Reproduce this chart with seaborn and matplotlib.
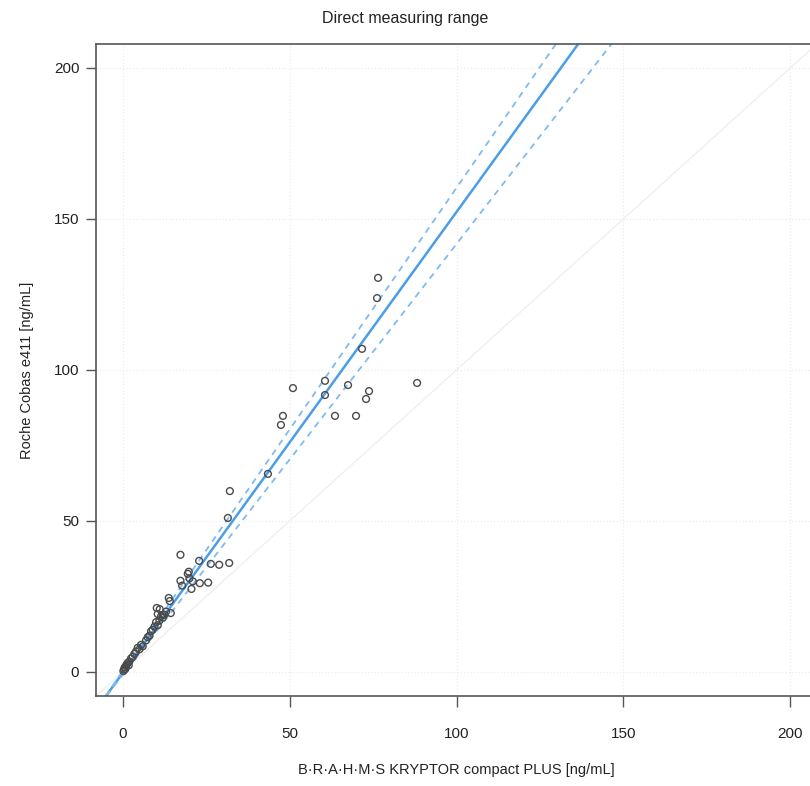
import numpy as np
import pandas as pd
import matplotlib
matplotlib.use('Agg')
import matplotlib.pyplot as plt
import seaborn as sns

# measured values (x: KRYPTOR, y: Cobas)
kryptor = [0.2, 0.4, 0.6, 0.8, 1.0, 1.2, 1.5, 1.8, 2.0, 2.5, 3.0, 3.5, 4.0, 4.5,
           5.0, 5.5, 6.0, 7.0, 7.5, 8.0, 8.5, 9.0, 9.5, 10.0, 10.5, 11.0, 11.5,
           12.0, 12.5, 13.0, 13.8, 14.1, 14.4, 10.2, 10.5, 12.0, 11.1,
           17.3, 22.9, 26.4, 28.9, 31.9, 19.8, 17.3, 23.1, 25.6, 20.6, 17.8,
           20.0, 21.0, 19.5,
           76.5, 76.2, 71.7, 60.6, 51.0, 67.5, 73.8, 88.2, 60.6, 72.9, 48.0,
           47.4, 63.6, 69.9, 43.5, 32.1, 31.5]
cobas = [0.3, 0.8, 1.5, 1.0, 2.0, 2.5, 3.0, 2.2, 3.5, 4.5, 5.0, 6.0, 6.8, 8.0,
         7.5, 9.0, 8.5, 10.5, 11.5, 12.0, 13.5, 14.0, 15.0, 16.5, 15.5, 17.0, 18.5,
         18.0, 19.0, 20.0, 24.5, 23.5, 19.5, 21.2, 19.2, 18.9, 20.8,
         38.8, 36.8, 35.8, 35.5, 36.1, 33.2, 30.2, 29.4, 29.6, 27.5, 28.6,
         31.0, 30.0, 32.5,
         130.5, 123.8, 107.0, 96.4, 94.0, 95.0, 93.0, 95.7, 91.7, 90.4, 84.8,
         81.8, 84.8, 84.8, 65.6, 59.9, 51.0]

# regression fit and confidence bounds (intercept, slope)
fit_names = ['fit', 'upper', 'lower']
fit_intercepts = [-0.3, 0.3, -1.0]
fit_slopes = [1.526, 1.60, 1.427]

ticks = [0, 50, 100, 150, 200]

df = pd.DataFrame({'kryptor': kryptor, 'cobas': cobas})

sns.set_theme(style='white')
plt.rcParams['font.family'] = ['Liberation Sans', 'DejaVu Sans']

fig = plt.figure(figsize=(8.1, 7.86), dpi=100)
ax = fig.add_axes([96 / 810, 0.1143, (817 - 96) / 810, 0.83])

ax.set_xlim(-8, 208)
ax.set_ylim(-8, 208)

# dotted grid at the ticks
for t in ticks:
    ax.axvline(t, color='#ededed', linestyle=':', linewidth=0.9, zorder=0)
    ax.axhline(t, color='#ededed', linestyle=':', linewidth=0.9, zorder=0)

# identity line
ax.axline((0, 0), slope=1, color='#eeeeee', linewidth=0.9, zorder=1)

for name, b, m in zip(fit_names, fit_intercepts, fit_slopes):
    if name == 'fit':
        ax.axline((0, b), slope=m, color='#4a9ee8', linewidth=1.8, zorder=2)
    else:
        ax.axline((0, b), slope=m, color='#80baee', linewidth=1.3,
                  linestyle=(0, (3.5, 3)), zorder=2)

sns.scatterplot(data=df, x='kryptor', y='cobas', ax=ax, marker='o',
                facecolor='none', edgecolor='#4a4a4a', linewidth=1.0, s=24,
                zorder=3)

ax.set_xticks(ticks)
ax.set_yticks(ticks)
ax.tick_params(axis='x', length=8, width=1, color='#555555', pad=14,
               labelsize=11, labelcolor='#222222', bottom=True)
ax.tick_params(axis='y', length=7, width=1, color='#555555', pad=5,
               labelsize=11, labelcolor='#222222', left=True)

for side in ['left', 'bottom', 'top', 'right']:
    ax.spines[side].set_color('#555555')
    ax.spines[side].set_linewidth(1.2)

ax.set_xlabel('B·R·A·H·M·S KRYPTOR compact PLUS [ng/mL]', fontsize=10.5,
              color='#222222', labelpad=16)
ax.set_ylabel('Roche Cobas e411 [ng/mL]', fontsize=10.5, color='#222222',
              labelpad=14)
fig.text(0.5, 1 - 18 / 786, 'Direct measuring range', ha='center', va='center',
         fontsize=11.5, color='#222222')

fig.savefig('out.png', dpi=100)
